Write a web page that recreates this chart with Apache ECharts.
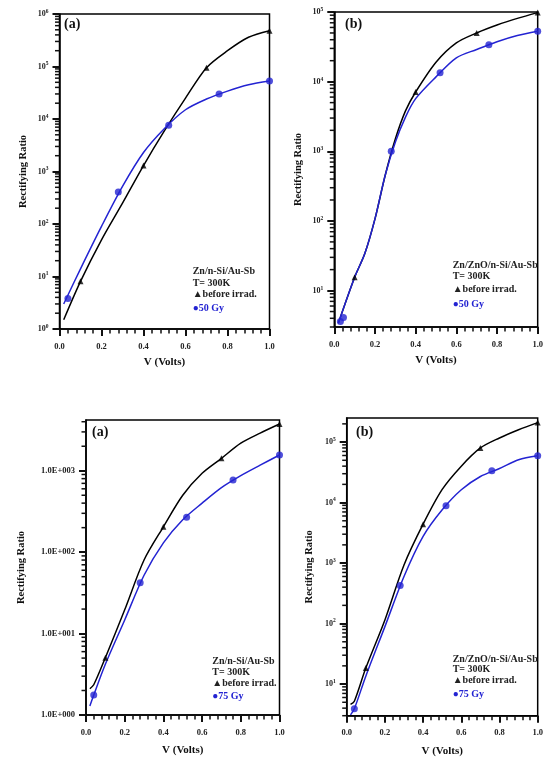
<!DOCTYPE html>
<html>
<head>
<meta charset="utf-8">
<script src="https://cdn.jsdelivr.net/npm/echarts@6/dist/echarts.min.js"></script>
<style>html,body{margin:0;padding:0;background:#fff}#c{width:546px;height:764px}</style>
</head>
<body>
<div id="c"></div>
<script>
// ---------- DATA ----------
const xTicks = [0.0, 0.2, 0.4, 0.6, 0.8, 1.0];
const curveV = [0.02, 0.1, 0.2, 0.3, 0.4, 0.5, 0.6, 0.7, 0.8, 0.9, 1.0];
const triV = [0.1, 0.4, 0.7, 1.0];
const circV = [0.04, 0.28, 0.52, 0.76, 1.0];
const circV2 = [0.03, 0.045, 0.28, 0.52, 0.76, 1.0];

// Panel 1: Zn/n-Si/Au-Sb, 50 Gy
const p1BlackCurve = [1.5, 8.1, 50, 250, 1300, 6000, 25000, 95000, 200000, 360000, 480000];
const p1BlueCurve = [3.0, 14, 90, 520, 2300, 6600, 15000, 24000, 34000, 45000, 53000];
const p1Tri = [8.1, 1300, 95000, 480000];
const p1Circ = [3.8, 405, 7600, 30000, 53000];

// Panel 2: Zn/ZnO/n-Si/Au-Sb, 50 Gy
const curveV2 = [0.02, 0.1, 0.15, 0.2, 0.25, 0.3, 0.35, 0.4, 0.5, 0.6, 0.7, 0.8, 0.9, 1.0];
const p2BlackCurve = [3.4, 15.5, 34, 107, 450, 1500, 3800, 7100, 19000, 36000, 50000, 65000, 81000, 98000];
const p2BlueCurve = [3.4, 15.5, 34, 107, 450, 1350, 3100, 5700, 11700, 22000, 29000, 37500, 46000, 53000];
const p2Tri = [15.5, 7100, 50000, 98000];
const p2Circ = [3.6, 4.1, 1000, 13400, 34000, 53000];

// Panel 3: Zn/n-Si/Au-Sb, 75 Gy
const curveV3 = [0.02, 0.04, 0.1, 0.2, 0.3, 0.4, 0.5, 0.6, 0.7, 0.8, 0.9, 1.0];
const p3BlackCurve = [2.1, 2.35, 5.06, 19.6, 80, 205, 500, 930, 1420, 2180, 2900, 3750];
const p3BlueCurve = [1.29, 1.76, 4.2, 14.7, 52, 130, 250, 400, 620, 870, 1170, 1560];
const p3Tri = [5.06, 205, 1420, 3750];
const p3Circ = [1.76, 42, 268, 770, 1560];

// Panel 4: Zn/ZnO/n-Si/Au-Sb, 75 Gy
const p4BlackCurve = [4.6, 5.2, 18.4, 115, 930, 4400, 16500, 40000, 80000, 117000, 160000, 210000];
const p4BlueCurve = [3.1, 3.9, 13.5, 89, 600, 2760, 7600, 16300, 27000, 36500, 51000, 59500];
const p4Tri = [18.4, 4400, 80000, 210000];
const p4Circ = [3.9, 427, 8900, 33700, 59500];

const yRanges = [[1, 1e6], [3, 1e5], [1, 4200], [3, 2.5e5]];
const minorMult = [2, 3, 4, 5, 6, 7, 8, 9];
const labelsA = ['Zn/n-Si/Au-Sb', 'T= 300K', '\u25B2before irrad.', '\u25CF50 Gy'];
const labelsB = ['Zn/ZnO/n-Si/Au-Sb', 'T= 300K', '\u25B2before irrad.', '\u25CF50 Gy'];
const labelsC = ['Zn/n-Si/Au-Sb', 'T= 300K', '\u25B2before irrad.', '\u25CF75 Gy'];
const labelsD = ['Zn/ZnO/n-Si/Au-Sb', 'T= 300K', '\u25B2before irrad.', '\u25CF75 Gy'];
const panelTags = ['(a)', '(b)', '(a)', '(b)'];

// ---------- STYLE / LAYOUT ----------
const FF = '"Liberation Serif", "Times New Roman", serif';
const BLUE = '#2323d2';
const grids = [
  {left: 59.5, top: 14, width: 210, height: 315},
  {left: 334.3, top: 12, width: 211.5, height: 315},
  {left: 86, top: 420, width: 193.5, height: 295},
  {left: 346.7, top: 418, width: 197.5, height: 297.7}
];
const yNameGap = [31, 31, 59, 32];
const xNameGap = [28, 28, 30, 30];

function pair(xs, ys) { return xs.map((x, i) => [x, ys[i]]); }
function isPow(v) { const l = Math.log10(v); return Math.abs(l - Math.round(l)) < 1e-6; }
function minorTicks(r) {
  const out = [];
  for (let k = Math.floor(Math.log10(r[0])); k <= Math.ceil(Math.log10(r[1])); k++) {
    minorMult.forEach(m => { const v = m * Math.pow(10, k); if (v > r[0] * 0.999 && v < r[1] * 1.001) out.push([0, v]); });
  }
  return out;
}

const TICK = '#111';
const xAxes = grids.map((g, i) => ({
  type: 'value', gridIndex: i, min: 0, max: 1, interval: 0.2,
  name: 'V (Volts)', nameLocation: 'middle', nameGap: xNameGap[i],
  nameTextStyle: {fontFamily: FF, fontWeight: 'bold', fontSize: 11, color: '#111'},
  axisLine: {show: true, onZero: false, lineStyle: {color: '#000', width: 1.5}},
  axisTick: {show: true, inside: false, length: 7, lineStyle: {color: TICK, width: 2}},
  minorTick: {show: true, splitNumber: 5, length: 4.5, lineStyle: {color: TICK, width: 1.5}},
  splitLine: {show: false},
  axisLabel: {margin: 13, fontFamily: FF, fontWeight: 'bold', fontSize: 8.5, color: '#222',
    formatter: v => v.toFixed(1)}
}));

const yAxes = grids.map((g, i) => ({
  type: 'log', logBase: 10, gridIndex: i, min: yRanges[i][0], max: yRanges[i][1],
  name: 'Rectifying Ratio', nameLocation: 'middle', nameGap: yNameGap[i], nameRotate: 90,
  nameTextStyle: {fontFamily: FF, fontWeight: 'bold', fontSize: 10.5, color: '#111'},
  axisLine: {show: true, onZero: false, lineStyle: {color: '#000', width: 1.5}},
  axisTick: {show: true, inside: false, length: 7, lineStyle: {color: TICK, width: 2}},
  splitLine: {show: false},
  axisLabel: {margin: 11, fontFamily: FF, fontWeight: 'bold', fontSize: i === 2 ? 8.5 : 8, color: '#222',
    showMinLabel: isPow(yRanges[i][0]), showMaxLabel: isPow(yRanges[i][1]),
    formatter: v => {
      if (!isPow(v)) return '';
      const e = Math.round(Math.log10(v));
      if (i === 2) return '1.0E+' + String(e).padStart(3, '0');
      return '{b|10}{s|' + e + '}';
    },
    rich: {
      b: {fontFamily: FF, fontWeight: 'bold', fontSize: 8, color: '#222'},
      s: {fontFamily: FF, fontWeight: 'bold', fontSize: 5.5, color: '#222', verticalAlign: 'top', padding: [0, 0, 5, 0]}
    }
  }
}));

const panels = [
  {cv: curveV, bc: p1BlackCurve, uc: p1BlueCurve, tv: triV, t: p1Tri, cvx: circV, c: p1Circ},
  {cv: curveV2, bc: p2BlackCurve, uc: p2BlueCurve, tv: triV, t: p2Tri, cvx: circV2, c: p2Circ},
  {cv: curveV3, bc: p3BlackCurve, uc: p3BlueCurve, tv: triV, t: p3Tri, cvx: circV, c: p3Circ},
  {cv: curveV3, bc: p4BlackCurve, uc: p4BlueCurve, tv: triV, t: p4Tri, cvx: circV, c: p4Circ}
];

const series = [];
panels.forEach((p, i) => {
  series.push({type: 'line', xAxisIndex: i, yAxisIndex: i, data: pair(p.cv, p.bc), smooth: 0.3,
    showSymbol: false, lineStyle: {color: '#000', width: 1.5}, silent: true, z: 3});
  series.push({type: 'line', xAxisIndex: i, yAxisIndex: i, data: pair(p.cv, p.uc), smooth: 0.3,
    showSymbol: false, lineStyle: {color: BLUE, width: 1.5}, silent: true, z: 3});
  series.push({type: 'scatter', xAxisIndex: i, yAxisIndex: i, data: pair(p.tv, p.t), symbol: 'triangle',
    symbolSize: 6, itemStyle: {color: '#000'}, silent: true, z: 4});
  series.push({type: 'scatter', xAxisIndex: i, yAxisIndex: i, data: pair(p.cvx, p.c), symbol: 'circle',
    symbolSize: 7, itemStyle: {color: BLUE}, silent: true, z: 4});
  series.push({type: 'custom', xAxisIndex: i, yAxisIndex: i, data: minorTicks(yRanges[i]), silent: true, clip: false, z: 10,
    renderItem: (params, api) => {
      const pt = api.coord([0, api.value(1)]);
      return {type: 'line', shape: {x1: pt[0] - 4.5, y1: pt[1], x2: pt[0], y2: pt[1]},
        style: {stroke: TICK, lineWidth: 1.5}};
    }});
});

const legendPos = [
  {x: 192.7, ys: [272.7, 284, 295, 309], lab: labelsA},
  {x: 452.7, ys: [266.7, 277.7, 290, 305], lab: labelsB},
  {x: 212.3, ys: [662.7, 673.3, 684, 697.7], lab: labelsC},
  {x: 452.7, ys: [660.7, 670.5, 681.7, 695], lab: labelsD}
];
const tagPos = [[64, 25], [345, 25], [92, 433], [356, 433]];
const graphic = [];
legendPos.forEach(L => {
  L.lab.forEach((t, j) => {
    graphic.push({type: 'text', left: L.x, top: L.ys[j] - 6, silent: true,
      style: {text: t, fontFamily: FF, fontWeight: 'bold', fontSize: 10, fill: j === 3 ? BLUE : '#222'}});
  });
});
tagPos.forEach((p, i) => {
  graphic.push({type: 'text', left: p[0], top: p[1] - 8, silent: true,
    style: {text: panelTags[i], fontFamily: FF, fontWeight: 'bold', fontSize: 14, fill: '#111'}});
});

const chart = echarts.init(document.getElementById('c'), null, {renderer: 'canvas'});
chart.setOption({
  animation: false,
  backgroundColor: '#fff',
  grid: grids.map(g => Object.assign({show: true, borderColor: '#000', borderWidth: 1.5, backgroundColor: 'transparent', containLabel: false}, g)),
  xAxis: xAxes,
  yAxis: yAxes,
  series: series,
  graphic: graphic
});
</script>
</body>
</html>
